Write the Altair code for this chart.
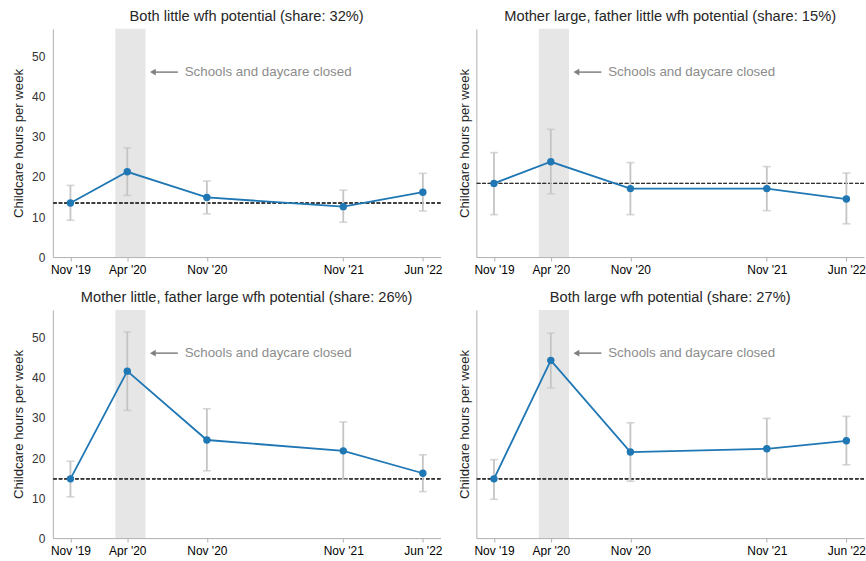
import json
import altair as alt
import pandas as pd

# Survey waves, measured in months since November 2019
months = [0, 5, 12, 24, 31]
month_labels = ["Nov '19", "Apr '20", "Nov '20", "Nov '21", "Jun '22"]

titles = [
    "Both little wfh potential (share: 32%)",
    "Mother large, father little wfh potential (share: 15%)",
    "Mother little, father large wfh potential (share: 26%)",
    "Both large wfh potential (share: 27%)",
]

# Mean childcare hours per week and 95% confidence bounds, per group
mean_both_little = [13.5, 21.3, 14.9, 12.6, 16.2]
low_both_little = [9.2, 15.4, 10.8, 8.7, 11.5]
high_both_little = [17.9, 27.3, 19.0, 16.7, 20.9]

mean_mother_large = [18.4, 23.8, 17.1, 17.1, 14.5]
low_mother_large = [10.6, 15.8, 10.6, 11.6, 8.3]
high_mother_large = [26.1, 31.9, 23.6, 22.6, 21.0]

mean_father_large = [14.8, 41.7, 24.5, 21.8, 16.2]
low_father_large = [10.3, 31.9, 16.8, 14.7, 11.6]
high_father_large = [19.2, 51.5, 32.3, 29.0, 20.8]

mean_both_large = [14.8, 44.4, 21.5, 22.3, 24.3]
low_both_large = [9.7, 37.5, 14.2, 14.9, 18.3]
high_both_large = [19.6, 51.2, 28.8, 29.9, 30.4]

# Pre-pandemic (Nov '19) level drawn as a reference line
baselines = [13.5, 18.4, 14.8, 14.8]

# School and daycare closure period (months since Nov '19)
closure_start = 3.95
closure_end = 6.6
note_text = "Schools and daycare closed"

groups = [
    (mean_both_little, low_both_little, high_both_little),
    (mean_mother_large, low_mother_large, high_mother_large),
    (mean_father_large, low_father_large, high_father_large),
    (mean_both_large, low_both_large, high_both_large),
]

FONT = "Liberation Sans"
BLUE = "#1f77b4"
PANEL_W = 389
PANEL_H = 229
Y_MAX = 57

x_scale = alt.Scale(domain=[-1.55, 32.55], nice=False, zero=False)
y_scale = alt.Scale(domain=[0, Y_MAX], nice=False, zero=True)

label_expr = " : ".join(
    f"datum.value == {m} ? {json.dumps(l)}" for m, l in zip(months, month_labels)
) + " : ''"

x_axis = alt.Axis(
    values=months, labelExpr=label_expr, title=None, grid=False,
    domainColor="#b0b0b0", tickColor="#b0b0b0", tickSize=4,
    labelColor="#000000", labelFont=FONT, labelFontSize=12,
    labelFontWeight="normal", labelPadding=3, labelFlush=False,
)


def y_axis(show_labels):
    return alt.Axis(
        values=[0, 10, 20, 30, 40, 50], labels=show_labels, ticks=False,
        grid=False, domainColor="#b0b0b0", labelColor="#333333",
        labelFont=FONT, labelFontSize=12, labelPadding=8,
        title="Childcare hours per week", titleFont=FONT, titleFontSize=13.2,
        titleFontWeight="normal", titleColor="#222222",
        titlePadding=6 if show_labels else 5,
    )


def panel(i):
    mean, low, high = groups[i]
    show_labels = i % 2 == 0
    df = pd.DataFrame({"m": months, "mean": mean, "lo": low, "hi": high})
    band_df = pd.DataFrame({"a": [closure_start], "b": [closure_end]})
    note_df = pd.DataFrame({
        "tip": [7.25], "tail": [9.45], "tx": [10.05], "ty": [46.2], "t": [note_text]
    })

    band = alt.Chart(band_df).mark_rect(color="#e6e6e6").encode(
        x=alt.X("a:Q", scale=x_scale, axis=x_axis),
        x2="b:Q",
        y=alt.Y(datum=0, scale=y_scale, axis=y_axis(show_labels)),
        y2=alt.Y2(datum=Y_MAX),
    )
    base_rule = alt.Chart(df).mark_rule(
        color="#333333", strokeDash=[3.5, 2], strokeWidth=0.9
    ).encode(y=alt.Y(datum=baselines[i], scale=y_scale))

    err = alt.Chart(df).mark_rule(color="#c4c4c4", strokeWidth=1.8).encode(
        x=alt.X("m:Q", scale=x_scale), y=alt.Y("lo:Q", scale=y_scale), y2="hi:Q"
    )
    cap_lo = alt.Chart(df).mark_tick(
        color="#c4c4c4", orient="horizontal", size=8, thickness=1.6
    ).encode(x=alt.X("m:Q", scale=x_scale), y=alt.Y("lo:Q", scale=y_scale))
    cap_hi = alt.Chart(df).mark_tick(
        color="#c4c4c4", orient="horizontal", size=8, thickness=1.6
    ).encode(x=alt.X("m:Q", scale=x_scale), y=alt.Y("hi:Q", scale=y_scale))

    line = alt.Chart(df).mark_line(color=BLUE, strokeWidth=1.8).encode(
        x=alt.X("m:Q", scale=x_scale), y=alt.Y("mean:Q", scale=y_scale)
    )
    dots = alt.Chart(df).mark_circle(color=BLUE, size=55, opacity=1).encode(
        x=alt.X("m:Q", scale=x_scale), y=alt.Y("mean:Q", scale=y_scale)
    )

    arrow_shaft = alt.Chart(note_df).mark_rule(color="#808080", strokeWidth=1.5).encode(
        x=alt.X("tip:Q", scale=x_scale), x2="tail:Q", y=alt.Y("ty:Q", scale=y_scale)
    )
    arrow_head = alt.Chart(note_df).mark_point(
        shape="triangle-left", filled=True, color="#808080", size=45, opacity=1
    ).encode(x=alt.X("tip:Q", scale=x_scale), y=alt.Y("ty:Q", scale=y_scale))
    note = alt.Chart(note_df).mark_text(
        align="left", baseline="middle", color="#8c8c8c", font=FONT, fontSize=13.4
    ).encode(x=alt.X("tx:Q", scale=x_scale), y=alt.Y("ty:Q", scale=y_scale), text="t:N")

    return alt.layer(
        band, base_rule, err, cap_lo, cap_hi, line, dots, arrow_shaft, arrow_head, note
    ).properties(
        width=PANEL_W, height=PANEL_H,
        title=alt.TitleParams(
            titles[i], font=FONT, fontSize=14.7, fontWeight="normal",
            color="#262626", offset=5, anchor="middle",
        ),
    )


top = alt.hconcat(panel(0), panel(1), spacing=15)
bottom = alt.hconcat(panel(2), panel(3), spacing=15)

chart = alt.vconcat(top, bottom, spacing=15).properties(
    padding={"left": 11, "top": 8, "right": 0, "bottom": 0}
).configure_view(stroke=None)

chart.save("out.html", embed_options={"renderer": "svg", "actions": False})
